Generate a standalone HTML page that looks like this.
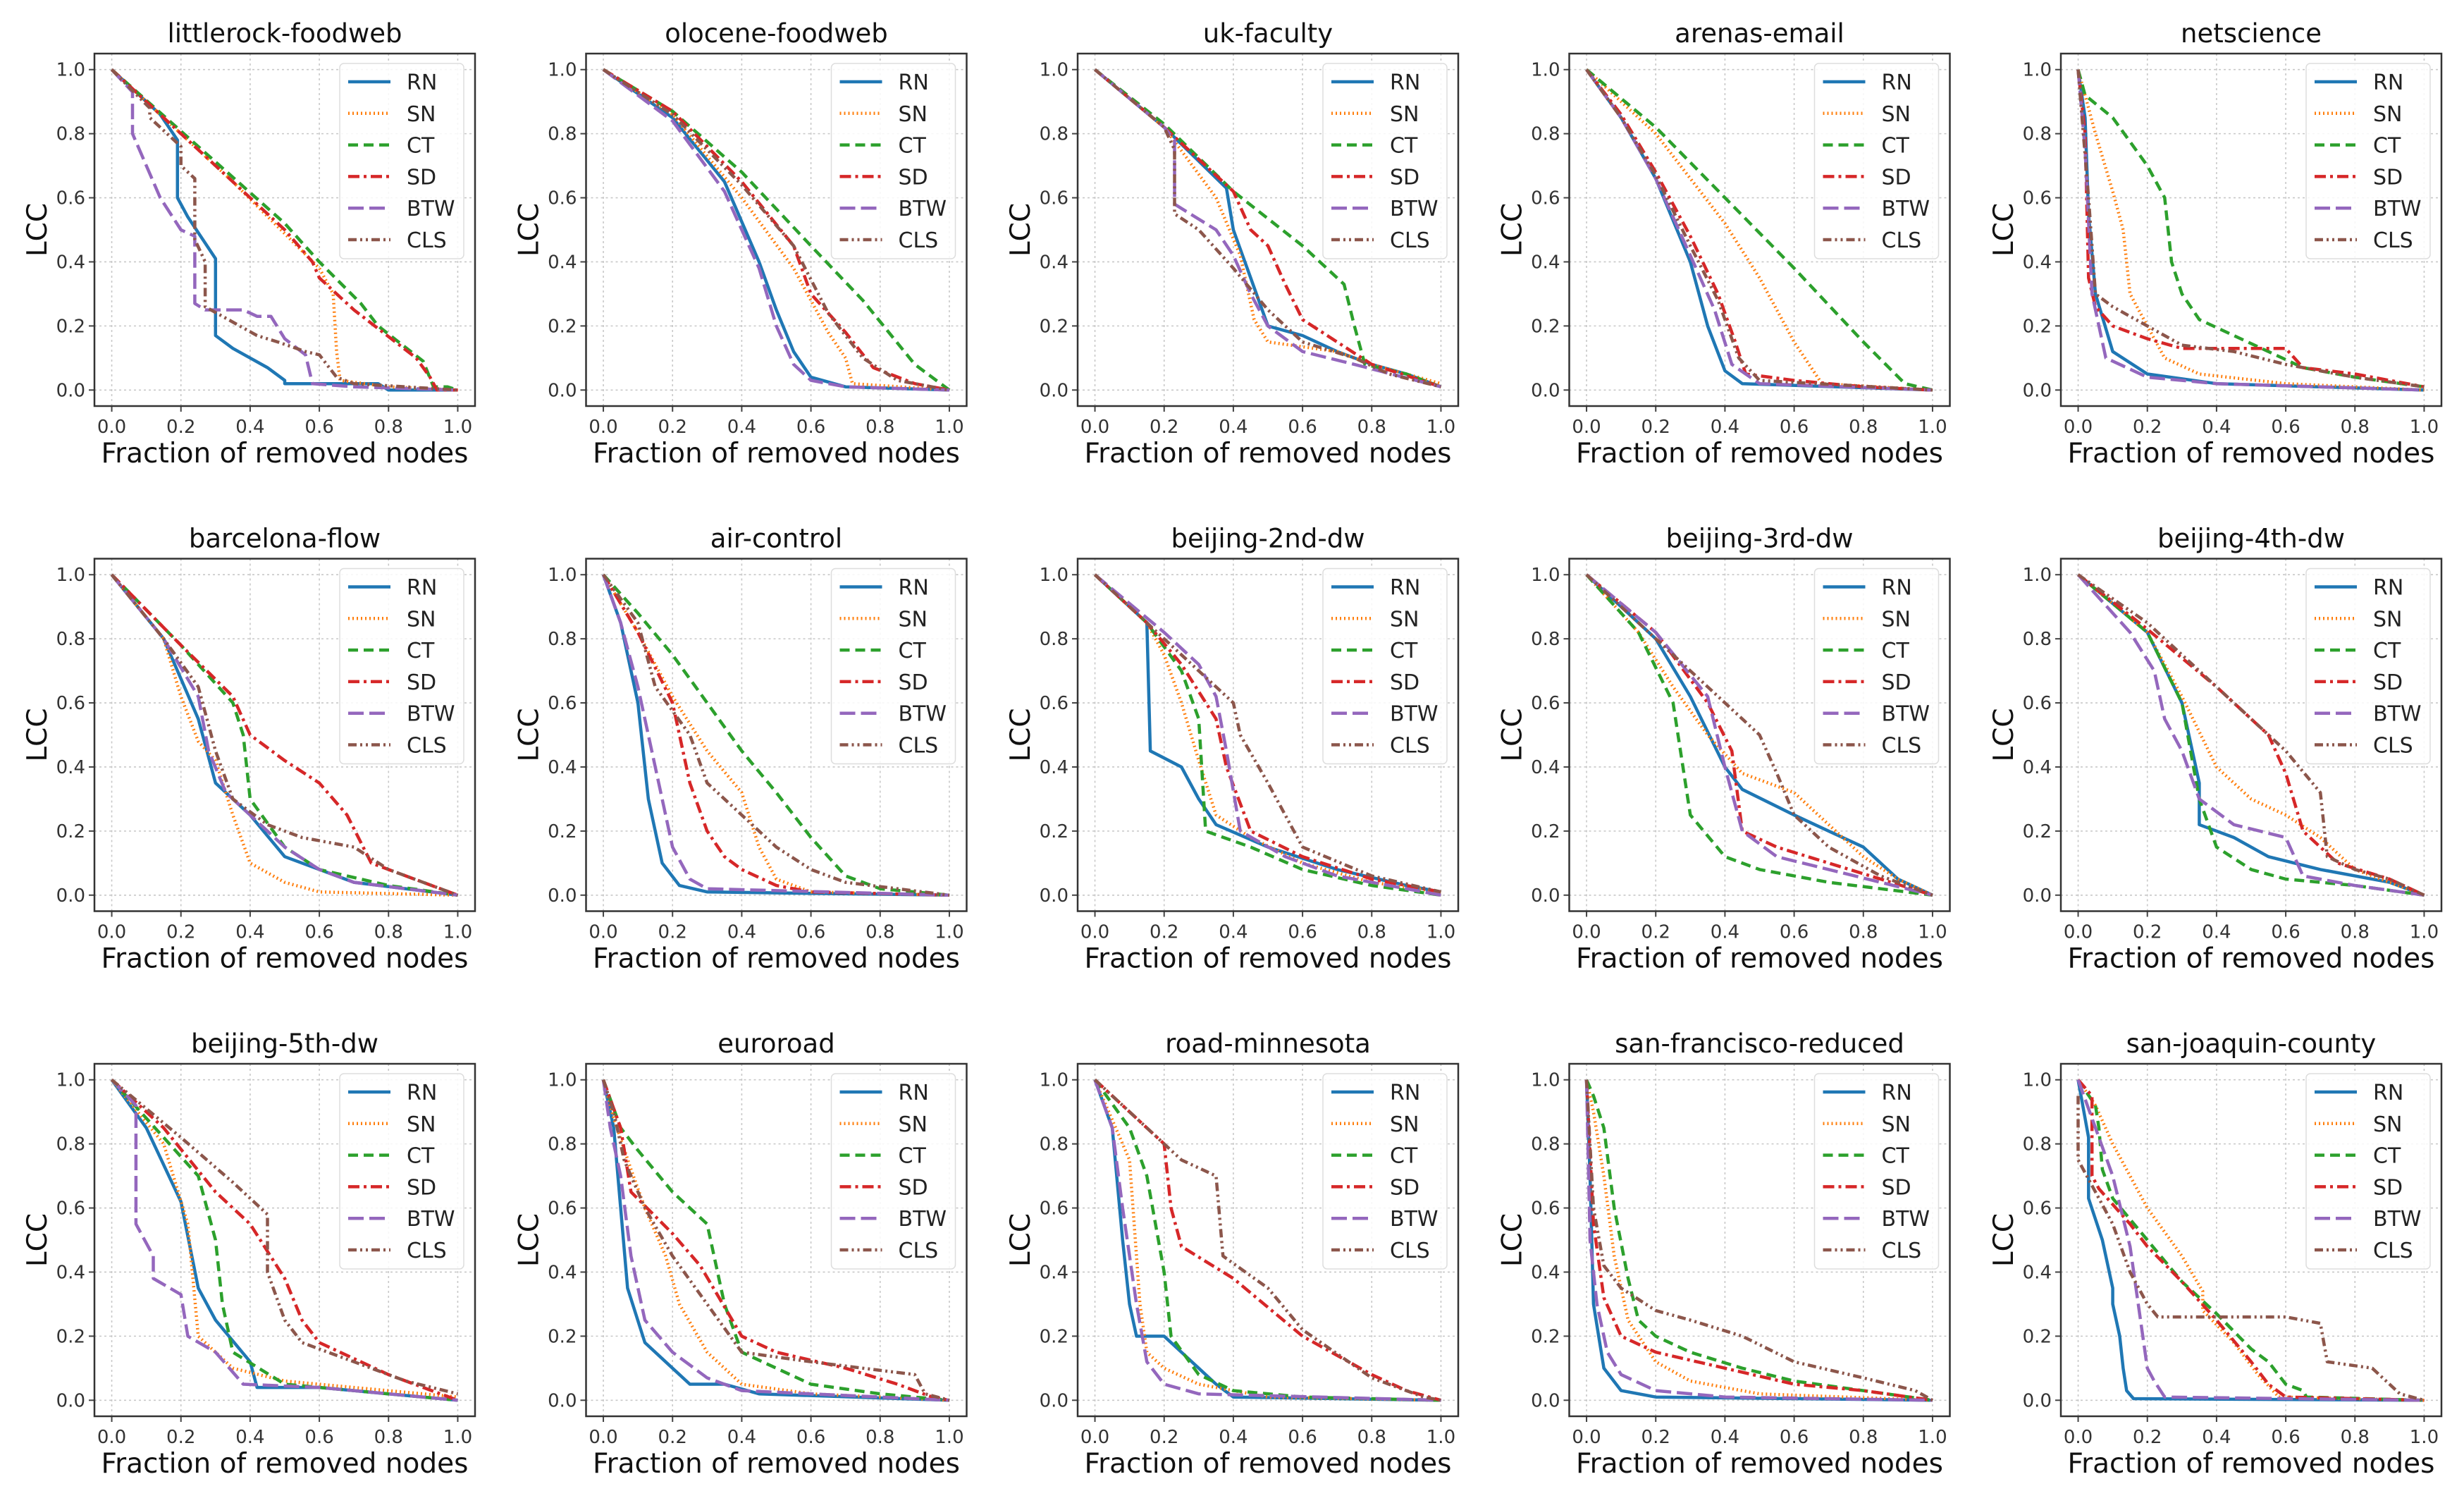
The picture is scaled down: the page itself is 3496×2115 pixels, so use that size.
<!DOCTYPE html>
<html><head><meta charset="utf-8"><style>
html,body{margin:0;padding:0;background:#fff}
svg{display:block}
text{font-family:"DejaVu Sans","Liberation Sans",sans-serif}
</style></head><body>
<svg id="fig" width="3496" height="2115" viewBox="0 0 3496 2115" xmlns="http://www.w3.org/2000/svg"></svg>
<script>
const titles = ["littlerock-foodweb","olocene-foodweb","uk-faculty","arenas-email","netscience",
"barcelona-flow","air-control","beijing-2nd-dw","beijing-3rd-dw","beijing-4th-dw",
"beijing-5th-dw","euroroad","road-minnesota","san-francisco-reduced","san-joaquin-county"];
const seriesNames = ["RN","SN","CT","SD","BTW","CLS"];
const xTicks = [0,0.2,0.4,0.6,0.8,1.0];
const yTicks = [0,0.2,0.4,0.6,0.8,1.0];
const tickLabels = ["0.0","0.2","0.4","0.6","0.8","1.0"];

const dRN = [
[[0,1],[0.14,0.86],[0.19,0.78],[0.19,0.6],[0.22,0.54],[0.3,0.41],[0.3,0.17],[0.35,0.13],[0.4,0.1],[0.45,0.07],[0.5,0.03],[0.5,0.02],[0.77,0.02],[0.8,0],[1,0]],
[[0,1],[0.2,0.85],[0.35,0.65],[0.45,0.4],[0.5,0.25],[0.55,0.12],[0.6,0.04],[0.7,0.01],[1,0]],
[[0,1],[0.2,0.82],[0.38,0.63],[0.4,0.5],[0.45,0.35],[0.5,0.2],[0.6,0.17],[0.7,0.12],[0.8,0.08],[0.9,0.05],[1,0.01]],
[[0,1],[0.1,0.85],[0.2,0.66],[0.3,0.4],[0.35,0.2],[0.4,0.06],[0.45,0.02],[1,0]],
[[0,1],[0.02,0.85],[0.03,0.55],[0.05,0.3],[0.1,0.12],[0.2,0.05],[0.4,0.02],[1,0]],
[[0,1],[0.15,0.8],[0.25,0.55],[0.3,0.35],[0.4,0.25],[0.5,0.12],[0.6,0.08],[0.7,0.04],[1,0]],
[[0,1],[0.05,0.85],[0.1,0.6],[0.13,0.3],[0.17,0.1],[0.22,0.03],[0.3,0.01],[1,0]],
[[0,1],[0.15,0.85],[0.16,0.45],[0.25,0.4],[0.3,0.3],[0.35,0.22],[0.5,0.15],[0.7,0.08],[0.9,0.03],[1,0.01]],
[[0,1],[0.2,0.8],[0.3,0.62],[0.4,0.4],[0.45,0.33],[0.6,0.25],[0.7,0.2],[0.8,0.15],[0.9,0.05],[1,0]],
[[0,1],[0.2,0.82],[0.3,0.6],[0.35,0.35],[0.35,0.22],[0.45,0.18],[0.55,0.12],[0.7,0.08],[0.9,0.04],[1,0]],
[[0,1],[0.1,0.85],[0.2,0.62],[0.25,0.35],[0.3,0.25],[0.4,0.12],[0.42,0.04],[0.6,0.04],[0.8,0.02],[1,0]],
[[0,1],[0.03,0.85],[0.05,0.6],[0.07,0.35],[0.12,0.18],[0.2,0.1],[0.25,0.05],[0.35,0.05],[0.45,0.02],[1,0]],
[[0,1],[0.05,0.85],[0.08,0.5],[0.1,0.3],[0.12,0.2],[0.2,0.2],[0.25,0.15],[0.3,0.1],[0.35,0.05],[0.4,0.01],[1,0]],
[[0,1],[0.01,0.7],[0.02,0.3],[0.05,0.1],[0.1,0.03],[0.2,0.01],[1,0]],
[[0,1],[0.03,0.82],[0.03,0.63],[0.07,0.5],[0.1,0.35],[0.1,0.3],[0.12,0.2],[0.13,0.1],[0.14,0.03],[0.16,0.005],[1,0]]
];
const dSN = [
[[0,1],[0.35,0.65],[0.6,0.38],[0.64,0.3],[0.65,0.12],[0.66,0.03],[0.8,0.01],[1,0]],
[[0,1],[0.2,0.86],[0.4,0.6],[0.55,0.38],[0.65,0.18],[0.7,0.1],[0.72,0.02],[1,0]],
[[0,1],[0.2,0.82],[0.35,0.6],[0.42,0.42],[0.46,0.22],[0.5,0.15],[0.7,0.12],[0.8,0.08],[1,0.02]],
[[0,1],[0.2,0.8],[0.4,0.52],[0.5,0.35],[0.6,0.15],[0.68,0.02],[1,0]],
[[0,1],[0.05,0.8],[0.1,0.62],[0.13,0.5],[0.15,0.3],[0.2,0.2],[0.25,0.1],[0.35,0.05],[0.6,0.02],[1,0]],
[[0,1],[0.15,0.8],[0.2,0.62],[0.25,0.48],[0.3,0.42],[0.35,0.25],[0.4,0.1],[0.5,0.04],[0.6,0.01],[1,0]],
[[0,1],[0.1,0.82],[0.2,0.62],[0.3,0.45],[0.4,0.32],[0.45,0.15],[0.5,0.05],[0.6,0.01],[1,0]],
[[0,1],[0.15,0.85],[0.2,0.75],[0.25,0.6],[0.3,0.42],[0.35,0.25],[0.45,0.18],[0.6,0.1],[0.8,0.04],[1,0.01]],
[[0,1],[0.15,0.82],[0.25,0.65],[0.35,0.5],[0.45,0.38],[0.6,0.32],[0.7,0.22],[0.8,0.12],[0.9,0.05],[1,0]],
[[0,1],[0.2,0.82],[0.3,0.62],[0.4,0.4],[0.5,0.3],[0.6,0.25],[0.7,0.18],[0.8,0.08],[1,0]],
[[0,1],[0.15,0.8],[0.22,0.55],[0.25,0.2],[0.35,0.1],[0.5,0.06],[0.7,0.04],[1,0.01]],
[[0,1],[0.03,0.88],[0.08,0.72],[0.12,0.6],[0.18,0.45],[0.22,0.3],[0.3,0.15],[0.4,0.05],[0.6,0.02],[1,0]],
[[0,1],[0.1,0.75],[0.13,0.3],[0.15,0.15],[0.2,0.1],[0.3,0.05],[0.5,0.01],[1,0]],
[[0,1],[0.02,0.9],[0.05,0.7],[0.08,0.45],[0.12,0.25],[0.2,0.12],[0.3,0.06],[0.5,0.02],[1,0]],
[[0,1],[0.05,0.92],[0.1,0.8],[0.2,0.6],[0.3,0.45],[0.36,0.34],[0.36,0.28],[0.45,0.18],[0.52,0.08],[0.58,0.01],[1,0]]
];
const dCT = [
[[0,1],[0.5,0.52],[0.6,0.4],[0.72,0.27],[0.77,0.2],[0.9,0.09],[0.93,0.01],[0.97,0.01],[1,0]],
[[0,1],[0.2,0.87],[0.4,0.68],[0.6,0.45],[0.75,0.28],[0.9,0.08],[1,0]],
[[0,1],[0.2,0.83],[0.4,0.62],[0.6,0.45],[0.72,0.33],[0.75,0.2],[0.78,0.08],[0.9,0.05],[1,0.01]],
[[0,1],[0.2,0.82],[0.4,0.6],[0.6,0.38],[0.8,0.15],[0.92,0.02],[1,0]],
[[0,1],[0.02,0.92],[0.1,0.85],[0.2,0.7],[0.25,0.6],[0.27,0.4],[0.3,0.3],[0.35,0.22],[0.45,0.17],[0.55,0.12],[0.65,0.07],[0.8,0.04],[1,0.01]],
[[0,1],[0.2,0.78],[0.35,0.6],[0.38,0.5],[0.4,0.3],[0.5,0.15],[0.6,0.08],[0.8,0.03],[1,0]],
[[0,1],[0.1,0.88],[0.2,0.75],[0.3,0.6],[0.4,0.45],[0.5,0.32],[0.6,0.18],[0.7,0.06],[0.8,0.02],[1,0]],
[[0,1],[0.15,0.85],[0.25,0.7],[0.3,0.55],[0.32,0.2],[0.45,0.15],[0.6,0.08],[0.8,0.03],[1,0]],
[[0,1],[0.15,0.82],[0.25,0.6],[0.3,0.25],[0.4,0.12],[0.5,0.08],[0.7,0.04],[0.85,0.02],[1,0]],
[[0,1],[0.2,0.82],[0.3,0.6],[0.35,0.3],[0.4,0.15],[0.5,0.08],[0.6,0.05],[0.8,0.03],[1,0]],
[[0,1],[0.15,0.82],[0.25,0.7],[0.3,0.5],[0.32,0.3],[0.35,0.15],[0.5,0.05],[0.8,0.02],[1,0]],
[[0,1],[0.05,0.85],[0.1,0.78],[0.2,0.65],[0.3,0.55],[0.35,0.3],[0.4,0.15],[0.5,0.1],[0.6,0.05],[0.8,0.02],[1,0]],
[[0,1],[0.1,0.85],[0.15,0.7],[0.2,0.4],[0.22,0.2],[0.3,0.08],[0.4,0.03],[0.6,0.01],[1,0]],
[[0,1],[0.02,0.95],[0.05,0.85],[0.08,0.6],[0.12,0.38],[0.15,0.25],[0.2,0.2],[0.3,0.15],[0.45,0.1],[0.6,0.06],[0.8,0.03],[1,0]],
[[0,1],[0.05,0.92],[0.06,0.85],[0.07,0.72],[0.1,0.63],[0.2,0.5],[0.3,0.37],[0.4,0.27],[0.5,0.16],[0.55,0.12],[0.6,0.05],[0.65,0.03],[0.66,0.01],[1,0]]
];
const dSD = [
[[0,1],[0.5,0.5],[0.58,0.4],[0.6,0.35],[0.7,0.25],[0.88,0.1],[0.92,0.04],[0.94,0],[1,0]],
[[0,1],[0.2,0.87],[0.4,0.65],[0.55,0.45],[0.6,0.3],[0.7,0.18],[0.78,0.07],[0.9,0.02],[1,0]],
[[0,1],[0.2,0.82],[0.4,0.62],[0.45,0.5],[0.5,0.45],[0.55,0.33],[0.6,0.22],[0.7,0.15],[0.8,0.08],[1,0.01]],
[[0,1],[0.1,0.86],[0.2,0.68],[0.3,0.48],[0.38,0.3],[0.43,0.15],[0.46,0.05],[0.6,0.03],[0.8,0.01],[1,0]],
[[0,1],[0.02,0.8],[0.03,0.35],[0.05,0.26],[0.1,0.2],[0.2,0.16],[0.3,0.13],[0.6,0.13],[0.65,0.07],[0.8,0.05],[1,0.01]],
[[0,1],[0.2,0.78],[0.35,0.62],[0.4,0.5],[0.5,0.42],[0.6,0.35],[0.68,0.25],[0.75,0.1],[0.85,0.06],[1,0]],
[[0,1],[0.1,0.82],[0.2,0.6],[0.25,0.35],[0.3,0.2],[0.35,0.12],[0.4,0.08],[0.5,0.03],[0.6,0.01],[1,0]],
[[0,1],[0.15,0.85],[0.25,0.72],[0.35,0.55],[0.38,0.4],[0.45,0.2],[0.6,0.12],[0.8,0.05],[1,0.01]],
[[0,1],[0.2,0.82],[0.35,0.6],[0.42,0.45],[0.45,0.2],[0.55,0.15],[0.7,0.1],[0.85,0.05],[1,0]],
[[0,1],[0.2,0.83],[0.4,0.65],[0.55,0.5],[0.6,0.38],[0.65,0.2],[0.75,0.1],[0.9,0.05],[1,0]],
[[0,1],[0.15,0.85],[0.3,0.65],[0.4,0.55],[0.5,0.38],[0.55,0.25],[0.6,0.18],[0.8,0.08],[0.95,0.02],[1,0]],
[[0,1],[0.05,0.85],[0.08,0.65],[0.2,0.52],[0.28,0.42],[0.4,0.2],[0.5,0.15],[0.7,0.1],[0.85,0.05],[0.95,0.01],[1,0]],
[[0,1],[0.1,0.9],[0.2,0.8],[0.22,0.6],[0.25,0.48],[0.4,0.38],[0.6,0.2],[0.8,0.08],[0.9,0.03],[1,0]],
[[0,1],[0.02,0.55],[0.05,0.32],[0.1,0.2],[0.2,0.15],[0.4,0.1],[0.6,0.05],[0.8,0.03],[1,0]],
[[0,1],[0.04,0.95],[0.04,0.7],[0.06,0.66],[0.15,0.55],[0.2,0.48],[0.3,0.37],[0.4,0.25],[0.5,0.12],[0.55,0.05],[0.6,0.01],[1,0]]
];
const dBTW = [
[[0,1],[0.06,0.93],[0.06,0.8],[0.14,0.6],[0.2,0.5],[0.24,0.48],[0.24,0.27],[0.27,0.25],[0.38,0.25],[0.42,0.23],[0.46,0.23],[0.5,0.16],[0.56,0.11],[0.58,0.02],[0.7,0.01],[1,0]],
[[0,1],[0.2,0.84],[0.35,0.62],[0.45,0.38],[0.5,0.2],[0.55,0.08],[0.6,0.03],[0.7,0.01],[1,0]],
[[0,1],[0.2,0.82],[0.23,0.78],[0.23,0.58],[0.35,0.5],[0.4,0.42],[0.45,0.3],[0.5,0.2],[0.6,0.12],[0.75,0.08],[1,0.01]],
[[0,1],[0.1,0.85],[0.2,0.66],[0.3,0.42],[0.37,0.25],[0.42,0.08],[0.5,0.02],[1,0]],
[[0,1],[0.02,0.75],[0.04,0.3],[0.08,0.1],[0.2,0.04],[0.4,0.02],[1,0]],
[[0,1],[0.15,0.8],[0.25,0.62],[0.28,0.45],[0.33,0.32],[0.4,0.25],[0.5,0.15],[0.6,0.08],[0.7,0.04],[1,0]],
[[0,1],[0.05,0.85],[0.1,0.65],[0.15,0.4],[0.2,0.15],[0.25,0.05],[0.3,0.02],[1,0]],
[[0,1],[0.2,0.82],[0.3,0.72],[0.35,0.62],[0.38,0.45],[0.42,0.2],[0.55,0.12],[0.7,0.06],[0.85,0.03],[1,0]],
[[0,1],[0.2,0.82],[0.35,0.62],[0.4,0.4],[0.45,0.2],[0.55,0.12],[0.7,0.08],[0.85,0.04],[1,0]],
[[0,1],[0.15,0.82],[0.22,0.7],[0.25,0.55],[0.3,0.45],[0.35,0.3],[0.45,0.22],[0.6,0.18],[0.65,0.06],[0.8,0.03],[1,0]],
[[0,1],[0.07,0.92],[0.07,0.55],[0.12,0.45],[0.12,0.38],[0.2,0.33],[0.22,0.2],[0.3,0.15],[0.38,0.05],[0.6,0.04],[0.8,0.02],[1,0]],
[[0,1],[0.02,0.85],[0.05,0.7],[0.08,0.45],[0.12,0.25],[0.2,0.15],[0.3,0.07],[0.4,0.03],[1,0]],
[[0,1],[0.05,0.85],[0.08,0.6],[0.12,0.3],[0.15,0.12],[0.2,0.05],[0.3,0.02],[1,0]],
[[0,1],[0.01,0.5],[0.03,0.3],[0.06,0.15],[0.1,0.08],[0.2,0.03],[0.4,0.01],[1,0]],
[[0,1],[0.05,0.85],[0.1,0.7],[0.15,0.48],[0.2,0.1],[0.22,0.06],[0.25,0.01],[1,0]]
];
const dCLS = [
[[0,1],[0.11,0.88],[0.11,0.85],[0.2,0.76],[0.2,0.7],[0.24,0.66],[0.24,0.47],[0.27,0.4],[0.27,0.26],[0.32,0.23],[0.42,0.17],[0.48,0.15],[0.56,0.12],[0.6,0.11],[0.65,0.04],[0.7,0.02],[1,0]],
[[0,1],[0.2,0.86],[0.4,0.64],[0.55,0.45],[0.65,0.24],[0.75,0.1],[0.85,0.03],[1,0]],
[[0,1],[0.2,0.82],[0.23,0.75],[0.23,0.55],[0.3,0.5],[0.4,0.38],[0.5,0.25],[0.6,0.15],[0.75,0.1],[0.85,0.05],[1,0.01]],
[[0,1],[0.1,0.85],[0.2,0.67],[0.3,0.45],[0.38,0.28],[0.44,0.1],[0.5,0.03],[1,0]],
[[0,1],[0.03,0.6],[0.05,0.3],[0.1,0.26],[0.2,0.2],[0.3,0.14],[0.45,0.12],[0.6,0.08],[0.8,0.04],[1,0.01]],
[[0,1],[0.15,0.8],[0.25,0.65],[0.3,0.45],[0.35,0.3],[0.45,0.22],[0.55,0.18],[0.7,0.15],[0.8,0.08],[1,0]],
[[0,1],[0.1,0.85],[0.15,0.65],[0.25,0.5],[0.3,0.35],[0.4,0.25],[0.5,0.15],[0.6,0.08],[0.7,0.04],[1,0]],
[[0,1],[0.2,0.8],[0.3,0.7],[0.4,0.6],[0.42,0.5],[0.5,0.35],[0.55,0.25],[0.6,0.15],[0.8,0.06],[1,0.01]],
[[0,1],[0.2,0.8],[0.3,0.7],[0.4,0.6],[0.5,0.5],[0.55,0.38],[0.6,0.25],[0.7,0.15],[0.85,0.06],[1,0]],
[[0,1],[0.2,0.85],[0.4,0.65],[0.6,0.45],[0.7,0.32],[0.72,0.12],[0.8,0.08],[0.9,0.05],[1,0]],
[[0,1],[0.2,0.82],[0.35,0.68],[0.45,0.58],[0.45,0.4],[0.5,0.25],[0.55,0.18],[0.7,0.12],[0.85,0.06],[1,0.02]],
[[0,1],[0.03,0.9],[0.06,0.75],[0.12,0.6],[0.2,0.45],[0.3,0.3],[0.4,0.15],[0.6,0.12],[0.9,0.08],[0.93,0.02],[1,0]],
[[0,1],[0.15,0.85],[0.25,0.75],[0.35,0.7],[0.37,0.45],[0.5,0.35],[0.6,0.22],[0.8,0.07],[0.95,0.01],[1,0]],
[[0,1],[0.02,0.6],[0.05,0.42],[0.1,0.35],[0.2,0.28],[0.3,0.25],[0.45,0.2],[0.6,0.12],[0.8,0.07],[0.95,0.03],[1,0]],
[[0,0.95],[0,0.75],[0.05,0.65],[0.1,0.55],[0.15,0.4],[0.2,0.3],[0.23,0.26],[0.6,0.26],[0.7,0.24],[0.72,0.12],[0.85,0.1],[0.93,0.02],[1,0]]
];

const allSeries = [dRN,dSN,dCT,dSD,dBTW,dCLS];
const colors = ["#1f77b4","#ff7f0e","#2ca02c","#d62728","#9467bd","#8c564b"];
const dashes = ["", "2,4", "14,8", "16,6,4,6", "22,8", "12,5,3,5,3,5"];

const NS = "http://www.w3.org/2000/svg";
const svg = document.getElementById('fig');
function mk(tag, attrs, parent){
  const e = document.createElementNS(NS, tag);
  for (const k in attrs) e.setAttribute(k, attrs[k]);
  (parent||svg).appendChild(e);
  return e;
}
const AW = 540, AH = 500;
for (let i = 0; i < titles.length; i++) {
  const r = Math.floor(i/5), c = i%5;
  const L = 134 + c*697.5, T = 76 + r*716.5;
  const sx = v => L + (v + 0.05) / 1.1 * AW;
  const sy = v => T + AH - (v + 0.05) / 1.1 * AH;
  const g = mk('g', {});
  
  
  for (let k = 0; k < xTicks.length; k++) {
    const gx = mk('line', {x1:sx(xTicks[k]), x2:sx(xTicks[k]), y1:T, y2:T+AH, stroke:'#c8c8c8', 'stroke-width':1.6, 'stroke-dasharray':'3,4'}, g);
    
    
    const gy = mk('line', {x1:L, x2:L+AW, y1:sy(yTicks[k]), y2:sy(yTicks[k]), stroke:'#c8c8c8', 'stroke-width':1.6, 'stroke-dasharray':'3,4'}, g);
    
    
    mk('line', {x1:sx(xTicks[k]), x2:sx(xTicks[k]), y1:T+AH, y2:T+AH+8, stroke:'#444', 'stroke-width':2}, g);
    mk('line', {x1:L-8, x2:L, y1:sy(yTicks[k]), y2:sy(yTicks[k]), stroke:'#444', 'stroke-width':2}, g);
    const xt = mk('text', {x:sx(xTicks[k]), y:T+AH+38, 'font-size':26, fill:'#333', 'text-anchor':'middle'}, g);
    xt.textContent = tickLabels[k];
    
    
    const yt = mk('text', {x:L-13, y:sy(yTicks[k])+9, 'font-size':26, fill:'#333', 'text-anchor':'end'}, g);
    yt.textContent = tickLabels[k];
    
    
  }
  for (let s = 0; s < allSeries.length; s++) {
    const pts = allSeries[s][i].map(p => sx(p[0]).toFixed(1) + ',' + sy(p[1]).toFixed(1)).join(' ');
    const pl = mk('polyline', {points:pts, fill:'none', stroke:colors[s], 'stroke-width':4.5, 'stroke-dasharray':dashes[s], 'stroke-linejoin':'round'}, g);
    
    
  }
  const fr = mk('rect', {x:L, y:T, width:AW, height:AH, fill:'none', stroke:'#333', 'stroke-width':2.5}, g);
  
  
  const tt = mk('text', {x:L+AW/2, y:T-16, 'font-size':37, fill:'#111', 'text-anchor':'middle'}, g);
  tt.textContent = titles[i];
  
  
  const xl = mk('text', {x:L+AW/2, y:T+AH+80, 'font-size':39, fill:'#111', 'text-anchor':'middle'}, g);
  xl.textContent = 'Fraction of removed nodes';
  
  
  const yl = mk('text', {x:0, y:0, 'font-size':39, fill:'#111', 'text-anchor':'middle', transform:'translate('+(L-68)+','+(T+AH/2)+') rotate(-90)'}, g);
  yl.textContent = 'LCC';
  
  
  const lg = mk('g', {}, g);
  
  
  mk('rect', {x:L+348, y:T+14, width:176, height:277, rx:6, fill:'#fff', 'fill-opacity':0.85, stroke:'#ddd', 'stroke-width':1.5}, lg);
  for (let s = 0; s < seriesNames.length; s++) {
    const yy = T + 40 + s*44.8;
    const ent = mk('g', {}, lg);
    
    
    mk('line', {x1:L+360, x2:L+420, y1:yy, y2:yy, stroke:colors[s], 'stroke-width':4.5, 'stroke-dasharray':dashes[s]}, ent);
    const lt = mk('text', {x:L+443, y:yy+11, 'font-size':30, fill:'#222'}, ent);
    lt.textContent = seriesNames[s];
  }
}
</script>
</body></html>
